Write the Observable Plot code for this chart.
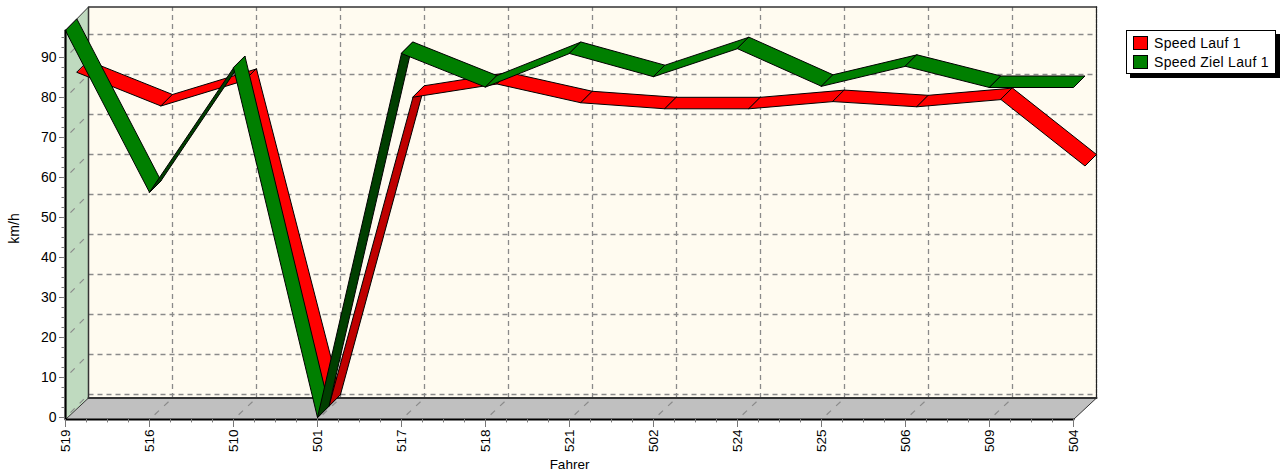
<!DOCTYPE html>
<html>
<head>
<meta charset="utf-8">
<script src="https://cdn.jsdelivr.net/npm/d3@7"></script>
<script src="https://cdn.jsdelivr.net/npm/@observablehq/plot@0.6"></script>
<style>
  html, body { margin: 0; padding: 0; background: #fff; overflow: hidden; }
  #wrap { position: relative; width: 1281px; height: 472px; }
  #wrap svg { display: block; }
  #legend { position: absolute; left: 1126px; top: 30px; width: 148px; height: 42px; background: #fff;
    border: 1px solid #000; box-shadow: 4px 4px 0 #000; font: 14px "Liberation Sans", Arial, sans-serif; letter-spacing: 0.3px; color: #000; }
  .row { position: absolute; left: 6px; height: 14px; line-height: 14px; white-space: nowrap; }
  .swatch { display: inline-block; width: 13px; height: 12px; border: 1px solid #000; vertical-align: top; margin-right: 6px; }
</style>
</head>
<body>
<div id="wrap">
  <div id="chart"></div>
  <div id="legend">
    <div class="row" style="top:5px"><span class="swatch" style="background:#ff0000"></span>Speed Lauf 1</div>
    <div class="row" style="top:24px"><span class="swatch" style="background:#008000"></span>Speed Ziel Lauf 1</div>
  </div>
</div>
<script>
const fahrer = ["519","516","510","501","517","518","521","502","524","525","506","509","504"];
const speedLauf = [83.4,75,81.4,0,77.2,80.5,75.8,74.3,74.3,76.1,74.8,76.6,60];
const speedZiel = [96.7,56.3,87.4,0,91,82.6,91,85.2,92.2,82.8,87.8,82.5,82.5];
const yTicks = [0,10,20,30,40,50,60,70,80,90];

const yMin = -0.5, yMax = 96.75;
const last = fahrer.length - 1;
const depthX = 23 / 84;      // chart depth in category steps
const depthY = 5.75;         // chart depth in km/h
const idx = d3.range(fahrer.length);
const minorX = d3.range(0, last + 0.001, 0.25).filter(v => v % 1 !== 0);
const minorY = d3.range(0, 96.5, 2.5).filter(v => v % 10 !== 0);

const poly = (pts, o) => Plot.line(pts, {x: "x", y: "y", curve: "linear-closed", ...o});
const P = (x, y) => ({x, y});

function ribbon(vals, color, dark, z0, z1) {
  const marks = [];
  for (let i = 0; i < vals.length - 1; i++) {
    const a = vals[i], b = vals[i + 1];
    const fill = (b - a) > 21 ? dark : color;
    marks.push(poly([
      P(i + z0 * depthX, a + z0 * depthY),
      P(i + 1 + z0 * depthX, b + z0 * depthY),
      P(i + 1 + z1 * depthX, b + z1 * depthY),
      P(i + z1 * depthX, a + z1 * depthY)
    ], {fill, stroke: "#000", strokeWidth: 1, strokeLinejoin: "round"}));
  }
  return marks;
}

const backBottom = 4.875, backTop = yMax + 5.875;
const gridStyle = {stroke: "#8a8a8a", strokeWidth: 1.3, strokeDasharray: "5 4"};
const depthGridStyle = {stroke: "#8a8a8a", strokeWidth: 1.2, strokeDasharray: "6 7", strokeDashoffset: -7};

const chart = Plot.plot({
  width: 1281, height: 472,
  marginLeft: 65, marginRight: 208, marginTop: 30, marginBottom: 53,
  style: {fontFamily: '"Liberation Sans", Arial, sans-serif', fontSize: "14px", background: "#fff", color: "#000"},
  x: {type: "linear", domain: [0, last]},
  y: {type: "linear", domain: [yMin, yMax]},
  marks: [
    // walls and floor
    poly([P(depthX, backBottom), P(last + depthX, backBottom), P(last + depthX, backTop), P(depthX, backTop)], {fill: "#FFFBF0", stroke: "none"}),
    poly([P(0, yMin), P(depthX, backBottom), P(depthX, backTop), P(0, yMax)], {fill: "#BFDABF", stroke: "none"}),
    poly([P(0, yMin), P(last, yMin), P(last + depthX, backBottom), P(depthX, backBottom)], {fill: "#C0C0C0", stroke: "none"}),
    // back wall grid
    Plot.link(yTicks, {x1: depthX, x2: last + depthX, y1: d => d + depthY, y2: d => d + depthY, ...gridStyle}),
    Plot.link(idx.slice(1, -1), {x1: d => d + depthX, x2: d => d + depthX, y1: backBottom, y2: backTop, ...gridStyle}),
    // side wall and floor grid
    Plot.link(yTicks, {x1: 0, x2: depthX, y1: d => d, y2: d => d + depthY, ...depthGridStyle}),
    Plot.link(idx.slice(1, -1), {x1: d => d, x2: d => d + depthX, y1: yMin, y2: backBottom, ...depthGridStyle}),
    // frame edges
    Plot.line([P(depthX, backBottom), P(depthX, backTop), P(last + depthX, backTop)], {x: "x", y: "y", stroke: "#333", strokeWidth: 1.5}),
    Plot.line([P(depthX, backBottom), P(last + depthX, backBottom)], {x: "x", y: "y", stroke: "#333", strokeWidth: 2}),
    Plot.line([P(last + depthX, backBottom), P(last + depthX, backTop)], {x: "x", y: "y", stroke: "#222", strokeWidth: 1.3, strokeDasharray: "4 1"}),
    Plot.line([P(0, yMax), P(depthX, backTop)], {x: "x", y: "y", stroke: "#333", strokeWidth: 1}),
    Plot.line([P(0, yMin), P(depthX, backBottom)], {x: "x", y: "y", stroke: "#333", strokeWidth: 1}),
    Plot.line([P(last, yMin), P(last + depthX, backBottom)], {x: "x", y: "y", stroke: "#333", strokeWidth: 1}),
    // series
    ...ribbon(speedLauf, "#ff0000", "#BF0000", 0.5, 1),
    ...ribbon(speedZiel, "#007F00", "#003F00", 0, 0.5),
    // axis lines
    Plot.line([P(0, yMax), P(0, yMin), P(last, yMin)], {x: "x", y: "y", stroke: "#000", strokeWidth: 2.2}),
    // minor ticks
    Plot.ruleX(minorX, {x: d => d, y1: yMin, y2: yMin - 0.85, stroke: "#777"}),
    Plot.ruleY(minorY, {y: d => d, x1: 0, x2: -3.5 / 84, stroke: "#777"}),
    // axes
    Plot.axisX(idx, {
      anchor: "bottom", tickSize: 8, tickPadding: 2, tickRotate: -90, stroke: "#777", fill: "#000",
      tickFormat: i => fahrer[i], fontSize: 13.5,
      label: "Fahrer", labelAnchor: "center", labelArrow: "none", labelOffset: 49
    }),
    Plot.axisY(yTicks, {
      anchor: "left", tickSize: 6, tickPadding: 3, stroke: "#777", fill: "#000", fontSize: 14, label: null
    }),
    Plot.text(["km/h"], {text: d => d, x: -51 / 84, y: 47.25, rotate: -90, fontSize: 14, fill: "#000"})
  ]
});
document.getElementById("chart").appendChild(chart);
</script>
</body>
</html>
